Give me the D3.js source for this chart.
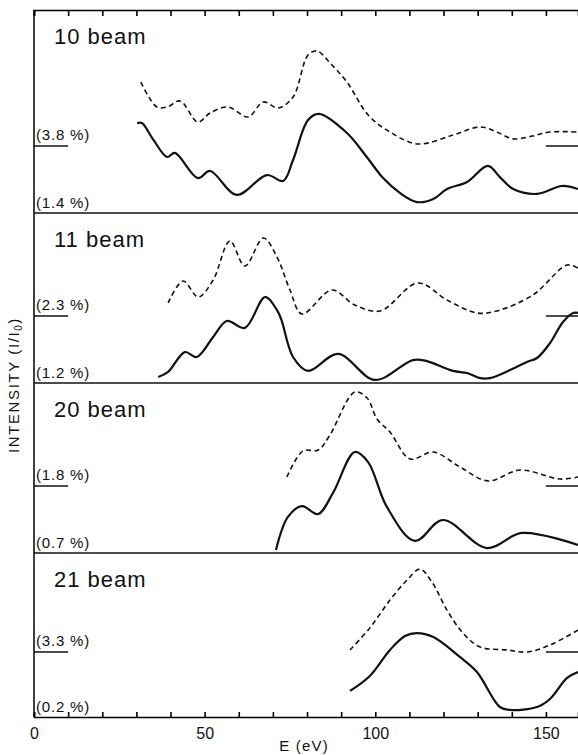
<!DOCTYPE html>
<html>
<head>
<meta charset="utf-8">
<script src="https://cdn.jsdelivr.net/npm/d3@7"></script>
<style>
  body { margin: 0; background: #fff; }
  svg { display: block; }
  text { font-family: "Liberation Sans", Arial, sans-serif; fill: #111; }
  .solida { fill: none; stroke: #111; stroke-width: 2.2; }
  .tratteggiata { fill: none; stroke: #111; stroke-width: 1.6; stroke-dasharray: 5, 3.5; }
  .cornice { stroke: #111; stroke-width: 1.6; }
</style>
</head>
<body>
<script>
// dati: E (eV) e intensita' in unita' arbitrarie (0-100 per pannello)
const titoli = ["10 beam", "11 beam", "20 beam", "21 beam"];
const etichetteSopra = ["(3.8 %)", "(2.3 %)", "(1.8 %)", "(3.3 %)"];
const etichetteSotto = ["(1.4 %)", "(1.2 %)", "(0.7 %)", "(0.2 %)"];
const livelliRiferimento = [33, 39.4, 39.4, 39.6];
const tickEtichette = [0, 50, 100, 150];

const solida10 = [[30.2, 44.3], [31.6, 44.3], [35, 36], [39, 27.6], [41.3, 29.6], [48, 17.2], [51.6, 20.7],
  [59.4, 8.9], [68.2, 18.7], [73, 15.8], [75.9, 26.1], [80.3, 45.8], [83.5, 48.8], [91.7, 39.4],
  [97.5, 27.6], [102.3, 17.2], [107.2, 9.9], [112.2, 5.4], [117, 6.9], [121, 11.8], [126.9, 15.3],
  [133, 23.2], [136.5, 17.7], [140.4, 11.8], [147.4, 9.4], [154.7, 13.3], [159.4, 11.8]];
const tratteggiata10 = [[31.3, 64.5], [36, 52.2], [39, 52.2], [42.8, 55.2], [48, 44.8], [51.6, 49.3],
  [56.9, 52.2], [62.7, 47.3], [67.2, 54.7], [71.5, 51.7], [75.9, 57.1], [80.3, 77.8], [83, 79.8],
  [86.7, 74], [91.7, 64.5], [97.9, 48.3], [104.3, 39.9], [112.5, 34], [122.8, 38.4], [130.7, 42.4],
  [135.6, 39.9], [140.4, 36.5], [146, 37.9], [151.2, 39.9], [159.4, 39.9]];

const solida11 = [[36.4, 3.5], [39.3, 6.5], [44.2, 18.2], [47.7, 15.3], [52.5, 27.1], [56.5, 36.5],
  [61.8, 32.4], [67.7, 50.6], [71.2, 42.9], [72.5, 37.1], [75.9, 15.3], [80.3, 7.1], [89.1, 17.1],
  [99.9, 1.8], [111, 13.5], [115.1, 12.9], [122.8, 7.1], [126.9, 5.9], [130.7, 2.9], [133.6, 2.9],
  [139.5, 7.6], [144.4, 12.4], [147.4, 14.7], [151.2, 23.5], [155, 35.9], [158, 41.2], [159.4, 41.2]];
const tratteggiata11 = [[39.3, 47.1], [43.7, 60], [48.1, 50.6], [52.5, 60.6], [57.4, 83.5], [61.8, 68.8],
  [67.2, 85.3], [71.2, 74.1], [75, 54.7], [78.5, 40.6], [87.3, 54.7], [94, 45.9], [101.4, 42.4],
  [112.5, 58.8], [121, 48.8], [129.8, 41.2], [135.6, 42.4], [146.2, 51.8], [156.2, 69.4], [159.4, 67.6]];

const solida20 = [[70.9, 1.8], [74.4, 21.2], [78.5, 27.6], [83.2, 22.9], [87.6, 35.3], [94, 59.4],
  [97.9, 53.5], [103.4, 27.1], [111.6, 7.1], [119.8, 19.4], [132.7, 2.9], [143, 11.8], [159.4, 4.7]];
const tratteggiata20 = [[74.1, 44.7], [78.8, 60], [83.3, 60.6], [86.7, 69.4], [94, 94.7], [97.6, 91.2],
  [100.5, 78.8], [104.3, 71.2], [110.2, 55.3], [117, 59.4], [124.8, 50.6], [133, 42.4], [142.4, 48.8],
  [154.1, 43.5], [159.4, 44.7]];

const solida21 = [[92.6, 15.9], [98.4, 25], [104.3, 40.9], [108.7, 49.4], [112.2, 51.2], [117, 48.8],
  [124.8, 36.6], [129.8, 27.4], [136.5, 6.1], [139.5, 4.3], [147.4, 6.1], [151.2, 11], [156.2, 23.8],
  [159.4, 27.4]];
const tratteggiata21 = [[92.6, 40.9], [98.4, 54.3], [104.3, 71.3], [109.3, 83.5], [113.1, 90.2],
  [116.6, 82.3], [121, 65.2], [125.7, 51.2], [130.7, 42.7], [138.6, 40.9], [144.4, 39.6], [151.2, 43.9],
  [159.4, 53]];

const curveSolide = [solida10, solida11, solida20, solida21];
const curveTratteggiate = [tratteggiata10, tratteggiata11, tratteggiata20, tratteggiata21];

// geometria
const larghezza = 578, altezza = 755;
const bordiPannelli = [10, 213, 383, 553, 717];
const asseY = 717;

const svg = d3.select("body").append("svg")
  .attr("width", larghezza)
  .attr("height", altezza);

const scalaE = d3.scaleLinear().domain([0, 159.4]).range([34, 578]);

titoli.forEach(function (titolo, i) {
  const alto = bordiPannelli[i], basso = bordiPannelli[i + 1];
  const scalaI = d3.scaleLinear().domain([0, 100]).range([basso, alto]);
  const linea = d3.line()
    .x(function (d) { return scalaE(d[0]); })
    .y(function (d) { return scalaI(d[1]); })
    .curve(d3.curveCatmullRom.alpha(0.5));

  const g = svg.append("g");

  // linee di riferimento a sinistra e a destra
  const yRif = scalaI(livelliRiferimento[i]);
  g.append("line").attr("class", "cornice")
    .attr("x1", scalaE(0)).attr("x2", scalaE(10)).attr("y1", yRif).attr("y2", yRif);
  g.append("line").attr("class", "cornice")
    .attr("x1", scalaE(150)).attr("x2", scalaE(159.4)).attr("y1", yRif).attr("y2", yRif);

  g.append("path").datum(curveTratteggiate[i]).attr("class", "tratteggiata").attr("d", linea);
  g.append("path").datum(curveSolide[i]).attr("class", "solida").attr("d", linea);

  g.append("text")
    .attr("x", 54).attr("y", alto + 34)
    .attr("font-size", 22).attr("letter-spacing", 1)
    .text(titolo);
  g.append("text")
    .attr("x", 36).attr("y", yRif - 6)
    .attr("font-size", 15).attr("letter-spacing", 0.8)
    .text(etichetteSopra[i]);
  g.append("text")
    .attr("x", 36).attr("y", basso - 5)
    .attr("font-size", 15).attr("letter-spacing", 0.8)
    .text(etichetteSotto[i]);

  // divisore tra pannelli
  if (i > 0) {
    g.append("line").attr("class", "cornice")
      .attr("x1", scalaE(0)).attr("x2", larghezza).attr("y1", alto).attr("y2", alto);
  }
});

// cornice: bordo sinistro
svg.append("line").attr("class", "cornice")
  .attr("x1", scalaE(0)).attr("x2", scalaE(0))
  .attr("y1", bordiPannelli[0]).attr("y2", asseY);

// asse superiore con tacche verso il basso
const asseSopra = d3.axisBottom(scalaE)
  .tickValues(d3.range(0, 160, 10))
  .tickSize(6)
  .tickFormat("");
svg.append("g")
  .attr("transform", `translate(0,${bordiPannelli[0]})`)
  .call(asseSopra)
  .call(function (s) {
    s.select(".domain").attr("stroke-width", 1.6);
    s.selectAll(".tick line").attr("stroke-width", 1.6);
  });

// asse inferiore con tacche verso l'alto
const asseSotto = d3.axisTop(scalaE)
  .tickValues(d3.range(0, 160, 10))
  .tickSize(5)
  .tickFormat("");
svg.append("g")
  .attr("transform", `translate(0,${asseY})`)
  .call(asseSotto)
  .call(function (s) {
    s.select(".domain").attr("stroke-width", 1.6);
    s.selectAll(".tick line").attr("stroke-width", 1.6);
  });

const etichetteAsse = d3.axisBottom(scalaE)
  .tickValues(tickEtichette)
  .tickSize(0)
  .tickPadding(11)
  .tickFormat(d3.format("d"));
svg.append("g")
  .attr("transform", `translate(0,${asseY})`)
  .call(etichetteAsse)
  .call(function (s) {
    s.select(".domain").remove();
    s.selectAll("text").attr("font-size", 16).attr("font-family", "Liberation Sans, Arial, sans-serif").attr("fill", "#111");
  });

svg.append("text")
  .attr("x", 304).attr("y", 751)
  .attr("text-anchor", "middle")
  .attr("font-size", 15).attr("letter-spacing", 1.2)
  .text("E (eV)");

const etichettaY = svg.append("text")
  .attr("transform", "translate(19,385) rotate(-90)")
  .attr("text-anchor", "middle")
  .attr("font-size", 15).attr("letter-spacing", 1.6);
etichettaY.append("tspan").text("INTENSITY (I/I");
etichettaY.append("tspan").attr("font-size", 10).attr("dy", 3).text("0");
etichettaY.append("tspan").attr("dy", -3).text(")");
</script>
</body>
</html>
